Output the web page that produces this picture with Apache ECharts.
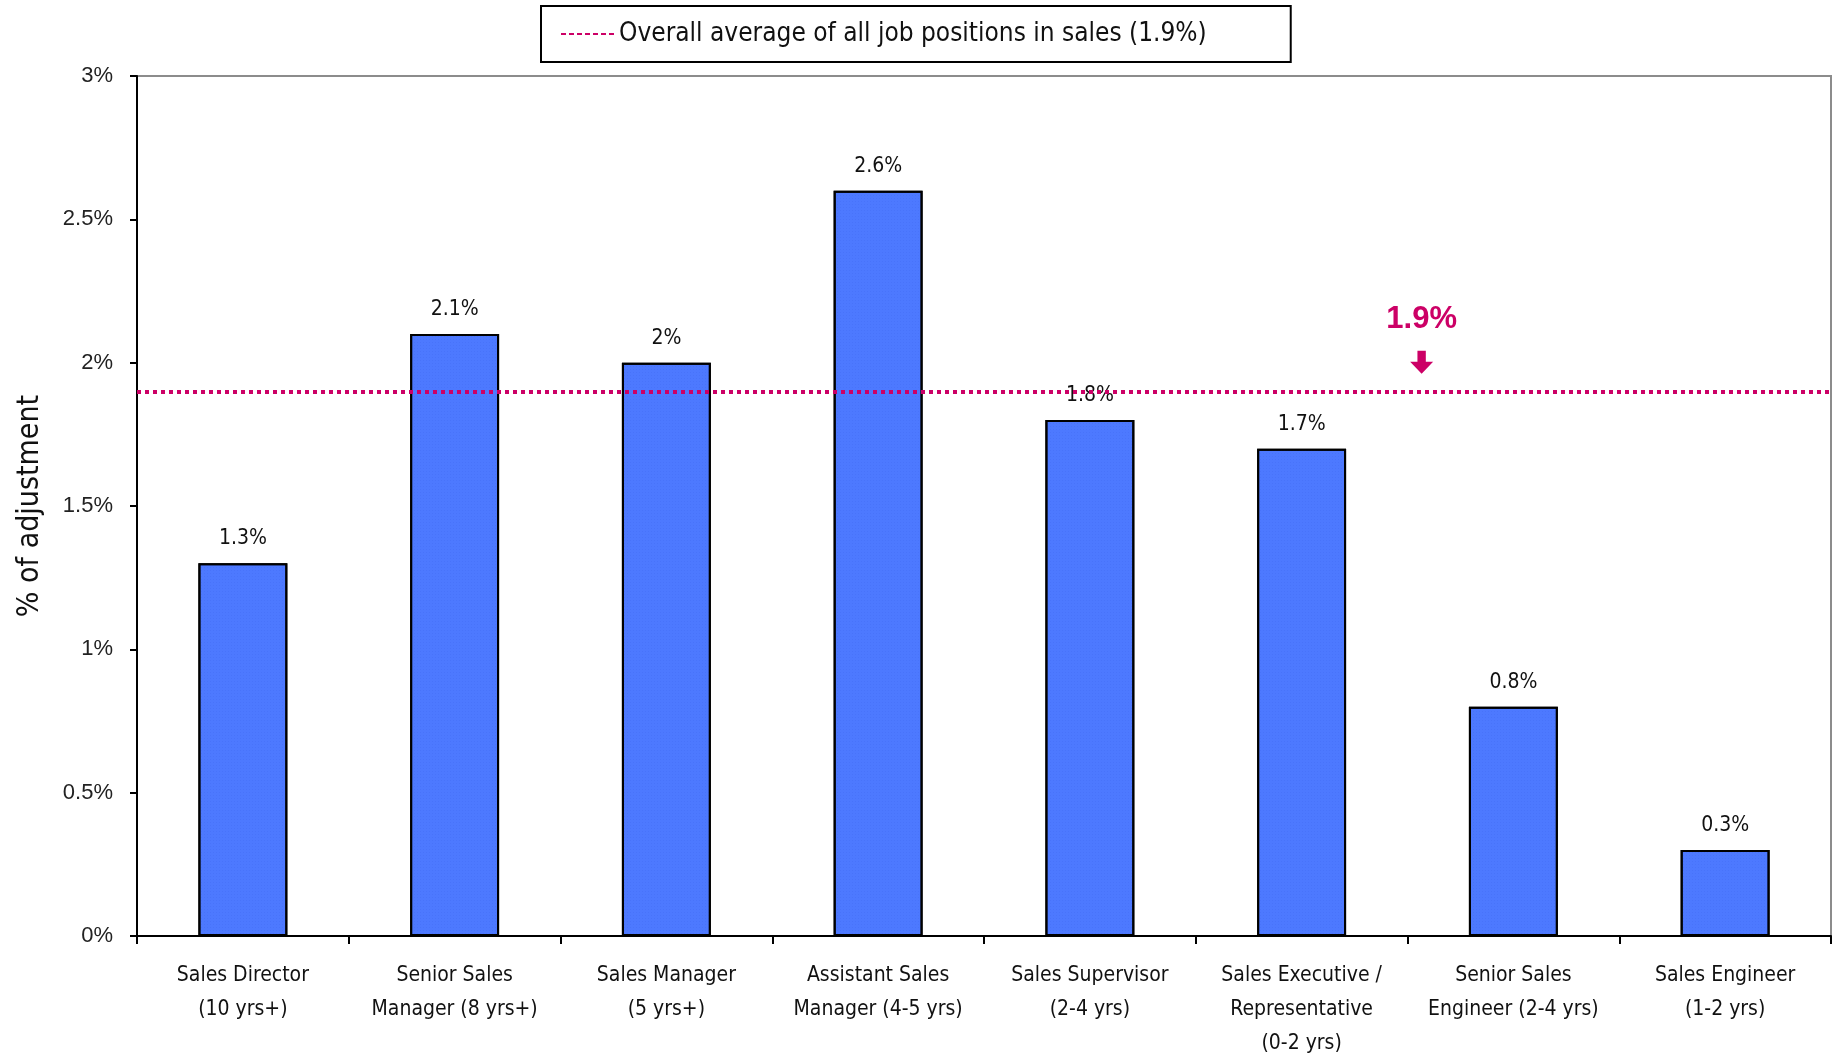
<!DOCTYPE html>
<html>
<head>
<meta charset="utf-8">
<script src="https://cdn.jsdelivr.net/npm/echarts@6/dist/echarts.min.js"></script>
<style>
html,body{margin:0;padding:0;background:#fff;}
#chart{width:1837px;height:1056px;}
</style>
</head>
<body>
<div id="chart"></div>
<script>
const categories = [
  'Sales Director\n(10 yrs+)',
  'Senior Sales\nManager (8 yrs+)',
  'Sales Manager\n(5 yrs+)',
  'Assistant Sales\nManager (4-5 yrs)',
  'Sales Supervisor\n(2-4 yrs)',
  'Sales Executive /\nRepresentative\n(0-2 yrs)',
  'Senior Sales\nEngineer (2-4 yrs)',
  'Sales Engineer\n(1-2 yrs)'
];
const values = [1.3, 2.1, 2.0, 2.6, 1.8, 1.7, 0.8, 0.3];
const averageValue = 1.9;
const averageName = 'Overall average of all job positions in sales (1.9%)';
const averageLabel = '1.9%';
const annotationCategory = 5;
const yMin = 0, yMax = 3, yInterval = 0.5;

const NARROW = "'Liberation Sans Narrow','Arial Narrow','DejaVu Sans Condensed',sans-serif";
const REG = "'Liberation Sans',Arial,sans-serif";
const MAGENTA = '#CC0066';

const chart = echarts.init(document.getElementById('chart'));
chart.setOption({
  animation: false,
  backgroundColor: '#fff',
  grid: {left: 137, right: 6, top: 76, bottom: 120, outerBoundsMode: 'none', containLabel: false, show: true, borderColor: '#8c8c8c', borderWidth: 2, backgroundColor: 'transparent'},
  legend: {
    data: [averageName],
    left: 541, top: 6,
    padding: [15, 84, 15, 19],
    borderColor: '#000', borderWidth: 2,
    itemWidth: 53, itemHeight: 14,
    itemStyle: {opacity: 0},
    textStyle: {fontFamily: NARROW, fontSize: 26, color: '#111'}
  },
  xAxis: {
    type: 'category',
    data: categories,
    axisLine: {lineStyle: {color: '#000', width: 2}},
    axisTick: {show: true, length: 8, lineStyle: {color: '#000', width: 2}},
    axisLabel: {interval: 0, margin: 23, fontFamily: NARROW, fontSize: 21, color: '#111', lineHeight: 34}
  },
  yAxis: {
    type: 'value', min: yMin, max: yMax, interval: yInterval,
    name: '% of adjustment', nameLocation: 'middle', nameRotate: 90, nameGap: 92,
    nameTextStyle: {fontFamily: NARROW, fontSize: 30, color: '#111'},
    axisLine: {show: true, lineStyle: {color: '#000', width: 2}},
    axisTick: {show: true, length: 7, lineStyle: {color: '#000', width: 2}},
    splitLine: {show: false},
    axisLabel: {margin: 24, fontFamily: REG, fontSize: 22, color: '#222', formatter: v => v + '%'}
  },
  series: [
    {
      type: 'bar',
      name: 'values',
      data: values,
      barWidth: '42%',
      itemStyle: {
        color: '#4D79FF', borderColor: '#000', borderWidth: 2,
        decal: {symbol: 'rect', symbolSize: 0.5, color: 'rgba(30,60,200,0.35)', dashArrayX: [1, 2], dashArrayY: [1, 2], rotation: 0}
      },
      label: {show: true, position: 'top', distance: 14, fontFamily: NARROW, fontSize: 21, color: '#111', formatter: p => p.value + '%'},
      markPoint: {
        silent: true,
        data: [{
          coord: [annotationCategory, averageValue],
          symbol: 'path://M7,0 L15,0 L15,11 L22,11 L11,23 L0,11 L7,11 Z',
          symbolSize: [23, 23],
          symbolOffset: [120, -29],
          itemStyle: {color: MAGENTA},
          label: {show: true, position: 'top', distance: 16, formatter: averageLabel, fontFamily: REG, fontWeight: 'bold', fontSize: 31, color: MAGENTA}
        }]
      }
    },
    {
      type: 'line',
      name: averageName,
      data: [],
      symbol: 'none',
      lineStyle: {color: MAGENTA, width: 2, type: [5, 3]},
      itemStyle: {color: MAGENTA},
      markLine: {
        silent: true, symbol: 'none',
        label: {show: false},
        lineStyle: {color: MAGENTA, width: 4, type: [4, 4], cap: 'butt'},
        data: [{yAxis: averageValue}]
      }
    }
  ]
});
</script>
</body>
</html>
